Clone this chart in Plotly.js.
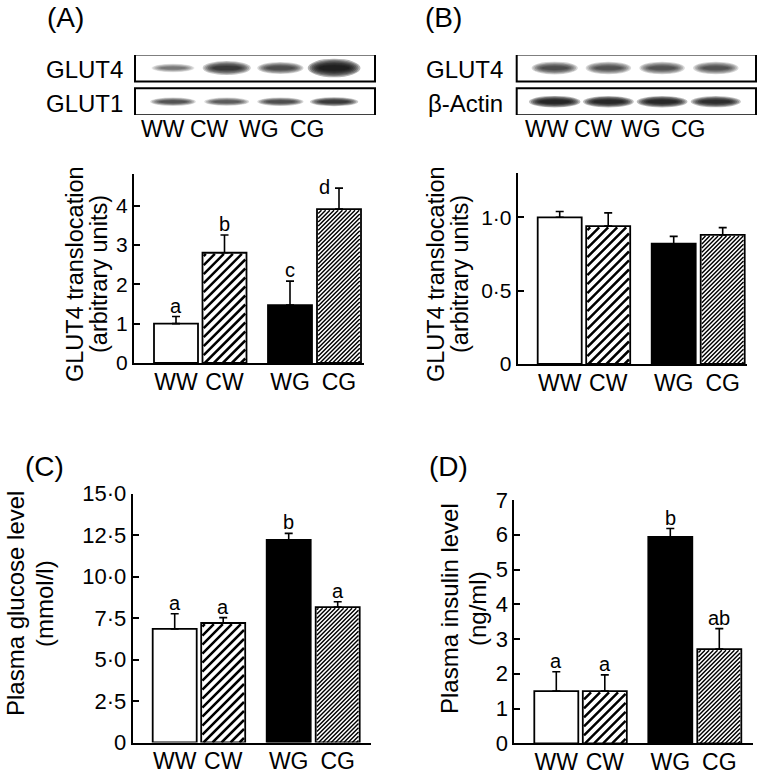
<!DOCTYPE html>
<html>
<head>
<meta charset="utf-8">
<script src="https://cdn.plot.ly/plotly-3.0.1.min.js"></script>
<style>html,body{margin:0;padding:0;background:#fff;}#chart{width:761px;height:775px;}</style>
</head>
<body>
<div id="chart"></div>
<script>
// ---------------- DATA ----------------
const groups = ['WW', 'CW', 'WG', 'CG'];

// (A) GLUT4 translocation (arbitrary units)
const translocA = [1.0, 2.8, 1.47, 3.91];
const translocA_err = [0.18, 0.45, 0.61, 0.53];
const lettersA = ['a', 'b', 'c', 'd'];

// (B) GLUT4 translocation (arbitrary units)
const translocB = [1.0, 0.94, 0.82, 0.88];
const translocB_err = [0.04, 0.09, 0.05, 0.05];
const lettersB = ['', '', '', ''];

// (C) Plasma glucose level (mmol/l)
const glucose = [6.84, 7.2, 12.2, 8.16];
const glucose_err = [0.92, 0.32, 0.4, 0.32];
const lettersC = ['a', 'a', 'b', 'a'];

// (D) Plasma insulin level (ng/ml)
const insulin = [1.5, 1.5, 5.94, 2.71];
const insulin_err = [0.56, 0.47, 0.24, 0.59];
const lettersD = ['a', 'a', 'b', 'ab'];

// tick labels
const tickValsA = [0, 1, 2, 3, 4];
const tickTextA = ['0', '1', '2', '3', '4'];
const tickValsB = [0, 0.5, 1.0];
const tickTextB = ['0', '0·5', '1·0'];
const tickValsC = [0, 2.5, 5, 7.5, 10, 12.5, 15];
const tickTextC = ['0', '2·5', '5·0', '7·5', '10·0', '12·5', '15·0'];
const tickValsD = [0, 1, 2, 3, 4, 5, 6, 7];
const tickTextD = ['0', '1', '2', '3', '4', '5', '6', '7'];

// western blot band intensities (relative, estimated)
const blotA_rows = ['GLUT4', 'GLUT1'];
const blotA_GLUT4 = [0.25, 0.65, 0.5, 1.0];
const blotA_GLUT1 = [0.45, 0.4, 0.5, 0.65];
const blotB_rows = ['GLUT4', 'β-Actin'];
const blotB_GLUT4 = [0.5, 0.45, 0.45, 0.45];
const blotB_actin = [0.9, 0.85, 0.85, 0.8];

// ---------------- LAYOUT HELPERS ----------------
const W = 761, H = 775;
const px = v => v / W;
const py = v => 1 - v / H;
const FONT = 'Liberation Sans, Arial, sans-serif';

const slot = [42, 90.5, 156, 205];   // bar centres, px from y-axis line
const barW = 44;

const barFill = ['white', 'white', 'black', 'white'];
const hatchStep = [0, 9, 0, 4.2];      // horizontal spacing of hatch lines (px), 0 = none
const hatchWidth = [0, 2.5, 0, 1.45];

const panels = [
  {id: 'A', n: '', xl: 134, xr: 364, yb: 363, yt: 174, range: [0, 4.8], vals: translocA, errs: translocA_err, letters: lettersA, tv: tickValsA, tt: tickTextA, tfs: 21,
   title: ['GLUT4 translocation', '(arbitrary units)'], tx: [75, 99], ty: 274, tfont: 23.5, lab: [65, 18]},
  {id: 'B', n: '2', xl: 517.7, xr: 747, yb: 364, yt: 173.3, range: [0, 1.3], vals: translocB, errs: translocB_err, letters: lettersB, tv: tickValsB, tt: tickTextB, tfs: 21,
   title: ['GLUT4 translocation', '(arbitrary units)'], tx: [436, 460], ty: 274, tfont: 23.5, lab: [443, 18]},
  {id: 'C', n: '3', xl: 132.7, xr: 371, yb: 742.5, yt: 493.5, range: [0, 15], vals: glucose, errs: glucose_err, letters: lettersC, tv: tickValsC, tt: tickTextC, tfs: 22,
   title: ['Plasma glucose level', '(mmol/l)'], tx: [15, 44], ty: 604, tfont: 24, lab: [44, 466]},
  {id: 'D', n: '4', xl: 514.3, xr: 752.7, yb: 743.3, yt: 500, range: [0, 7], vals: insulin, errs: insulin_err, letters: lettersD, tv: tickValsD, tt: tickTextD, tfs: 22,
   title: ['Plasma insulin level', '(ng/ml)'], tx: [449, 477], ty: 609, tfont: 24, lab: [448, 466]},
];

const data = [];
const layout = {
  width: W, height: H,
  margin: {l: 0, r: 0, t: 0, b: 0},
  paper_bgcolor: 'white', plot_bgcolor: 'rgba(0,0,0,0)',
  showlegend: false,
  font: {family: FONT, color: 'black'},
  annotations: [], shapes: [],
  bargap: 0,
};

// diagonal hatch path for a bar, clipped to its rectangle (computed in px, returned in data units)
function hatchPath(cx, value, k, step) {
  const inset = 1.2;
  const L = cx - barW / 2 + inset, w = barW - 2 * inset;
  const h = value * k - inset;
  let d = '';
  for (let c = -w + step / 2; c < h; c += step) {
    const u0 = Math.max(0, -c), u1 = Math.min(w, h - c);
    if (u1 <= u0) continue;
    const x0 = L + u0, y0 = (u0 + c) / k, x1 = L + u1, y1 = (u1 + c) / k;
    d += 'M' + x0.toFixed(2) + ',' + y0.toFixed(4) + 'L' + x1.toFixed(2) + ',' + y1.toFixed(4);
  }
  return d;
}

panels.forEach(p => {
  const xa = 'x' + p.n, ya = 'y' + p.n;
  const xkey = 'xaxis' + p.n, ykey = 'yaxis' + p.n;
  const len = p.xr - p.xl;
  const k = (p.yb - p.yt) / (p.range[1] - p.range[0]);
  layout[xkey] = {
    domain: [px(p.xl), px(p.xr)], range: [0, len], anchor: ya,
    showline: true, linewidth: 2, linecolor: 'black', showgrid: false, zeroline: false,
    ticks: '', tickvals: slot, ticktext: groups, tickfont: {size: 23, family: FONT, color: 'black'},
    ticklabelstandoff: -3,
    fixedrange: true,
  };
  layout[ykey] = {
    domain: [py(p.yb), py(p.yt)], range: p.range, anchor: xa,
    showline: true, linewidth: 2, linecolor: 'black', showgrid: false, zeroline: false,
    ticks: 'inside', ticklen: 6, tickwidth: 2, tickcolor: 'black',
    tickvals: p.tv, ticktext: p.tt, tickfont: {size: p.tfs, family: FONT, color: 'black'},
    fixedrange: true,
  };
  data.push({
    type: 'bar', xaxis: xa, yaxis: ya,
    x: slot, y: p.vals, width: groups.map(() => barW),
    marker: {color: barFill, line: {color: 'black', width: 1.8}},
    error_y: {type: 'data', symmetric: false, array: p.errs, arrayminus: p.errs.map(() => 0), color: 'black', thickness: 1.6, width: 4},
    hoverinfo: 'skip',
  });
  // hatching
  p.vals.forEach((v, i) => {
    if (!hatchStep[i]) return;
    layout.shapes.push({type: 'path', xref: xa, yref: ya, path: hatchPath(slot[i], v, k, hatchStep[i]),
      line: {color: 'black', width: hatchWidth[i]}, layer: 'above'});
  });
  // significance letters
  p.letters.forEach((t, i) => {
    if (!t) return;
    const top = p.vals[i] + p.errs[i];
    const isD = (t === 'd');
    layout.annotations.push({
      xref: xa, yref: ya, x: slot[i], y: top, text: t, showarrow: false,
      xanchor: 'center', yanchor: isD ? 'middle' : 'bottom',
      xshift: isD ? -15 : 0, yshift: isD ? 1 : -2,
      font: {size: 20, family: FONT, color: 'black'},
    });
  });
  // y-axis titles (two lines)
  p.title.forEach((t, kk) => {
    layout.annotations.push({
      xref: 'paper', yref: 'paper', x: px(p.tx[kk]), y: py(p.ty), text: t, textangle: -90,
      showarrow: false, xanchor: 'center', yanchor: 'middle',
      font: {size: p.tfont, family: FONT, color: 'black'},
    });
  });
  // panel label
  layout.annotations.push({
    xref: 'paper', yref: 'paper', x: px(p.lab[0]), y: py(p.lab[1]), text: '(' + p.id + ')',
    showarrow: false, xanchor: 'center', yanchor: 'middle',
    font: {size: 28, family: FONT, color: 'black'},
  });
});

// ---------------- WESTERN BLOTS ----------------
const blots = [
  {n: '5', xl: 135, xr: 375, rows: blotA_rows, bands: [blotA_GLUT4, blotA_GLUT1], thick: [[3, 8], [4, 2]], labelRight: 125, laneLab: [163, 209, 259, 307]},
  {n: '6', xl: 516.7, xr: 756, rows: blotB_rows, bands: [blotB_GLUT4, blotB_actin], thick: [[6, 3], [5, 2]], labelRight: 505, laneLab: [547, 593, 641, 688]},
];
const rowPx = 33.7;      // px per row unit
const lanePx = 53.7;     // px per lane unit
blots.forEach(b => {
  const xa = 'x' + b.n, ya = 'y' + b.n;
  const lo = 1 - 38 / lanePx;
  const hi = lo + (b.xr - b.xl) / lanePx;
  layout['xaxis' + b.n] = {domain: [px(b.xl), px(b.xr)], range: [lo, hi], visible: false, anchor: ya, fixedrange: true};
  const r0 = -13.3 / rowPx;
  layout['yaxis' + b.n] = {domain: [py(115), py(55)], range: [r0, r0 + 60 / rowPx], visible: false, anchor: xa, fixedrange: true};
  b.rows.forEach((name, r) => {
    const rowVal = 1 - r; // first row on top
    // bands (soft: stacked faint ellipses)
    b.bands[r].forEach((v, i) => {
      const lane = i + 1;
      const wpx = 36 + 12 * v, hpx = b.thick[r][0] + b.thick[r][1] * v;
      const nL = 7;
      const a = 0.04 + 0.27 * v;
      for (let j = 0; j < nL; j++) {
        const f = 1 - j / nL;
        const sw = 0.55 + 0.55 * f, sh = 0.3 + 1.4 * f;
        const hw = wpx * sw / 2 / lanePx, hh = hpx * sh / 2 / rowPx;
        layout.shapes.push({type: 'circle', xref: xa, yref: ya, x0: lane - hw, x1: lane + hw, y0: rowVal - hh, y1: rowVal + hh,
          line: {width: 0}, fillcolor: 'rgba(15,15,15,' + a.toFixed(3) + ')', layer: 'above'});
      }
    });
    // frame
    layout.shapes.push({type: 'rect', xref: xa + ' domain', yref: ya, x0: 0, x1: 1, y0: rowVal - 0.4, y1: rowVal + 0.4,
      line: {color: 'black', width: 2}, fillcolor: 'rgba(0,0,0,0)', layer: 'above'});
    // row label
    layout.annotations.push({xref: 'paper', yref: ya, x: px(b.labelRight), y: rowVal - 0.04, text: name, showarrow: false,
      xanchor: 'right', yanchor: 'middle', font: {size: 24, family: FONT, color: 'black'}});
  });
  // lane labels
  groups.forEach((g, i) => {
    layout.annotations.push({xref: 'paper', yref: 'paper', x: px(b.laneLab[i]), y: py(129), text: g, showarrow: false,
      xanchor: 'center', yanchor: 'middle', font: {size: 23, family: FONT, color: 'black'}});
  });
});

Plotly.newPlot('chart', data, layout, {staticPlot: true, displayModeBar: false});
</script>
</body>
</html>
